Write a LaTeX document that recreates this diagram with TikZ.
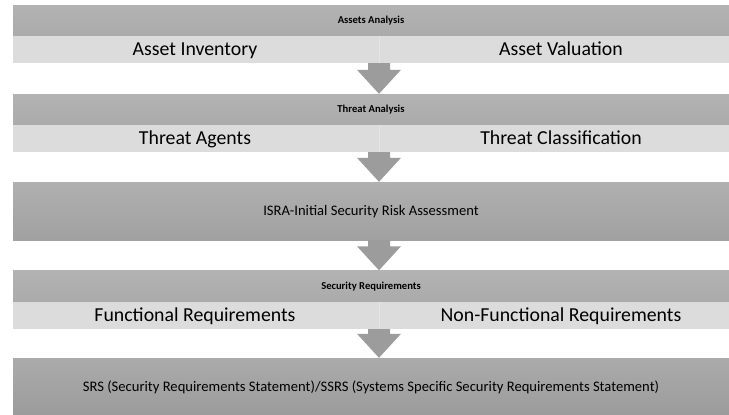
\documentclass[tikz,border=0pt]{standalone}
\usepackage{fontspec}
\setmainfont{Carlito}
\usetikzlibrary{calc}
\definecolor{lightrow}{HTML}{DCDCDC}
\definecolor{arrowgray}{HTML}{9C9C9C}
\tikzset{
  head/.style={rectangle, inner sep=0pt, minimum width=716pt, minimum height=31pt,
    text height=6.8pt, text depth=0pt,
    top color=black!30, bottom color=black!33, font=\bfseries\fontsize{10.6}{12}\selectfont},
  bigbox/.style={rectangle, inner sep=0pt, minimum width=716pt,
    text height=9.4pt, text depth=0pt,
    top color=black!31, bottom color=black!37, font=\fontsize{14.6}{16}\selectfont},
  rowhalf/.style={rectangle, inner sep=0pt, minimum height=27pt, fill=lightrow},
  rowtext/.style={inner sep=0pt, text height=12.8pt, text depth=0pt,
    font=\fontsize{19.8}{22}\selectfont},
  flowarrow/.style={fill=arrowgray}
}
\newcommand{\flowarr}[2]{%
  \fill[flowarrow] let \p1=(#1.south), \p2=(#2.north) in
    (368pt,\y1) -- (390pt,\y1) -- (390pt,\y2+24pt) -- (401pt,\y2+24pt) --
    (379pt,\y2) -- (357pt,\y2+24pt) -- (368pt,\y2+24pt) -- cycle;}
\begin{document}
\begin{tikzpicture}[x=1pt,y=-1pt]
\useasboundingbox (0,0) rectangle (729,415);
% assets
\node[head] (aa) at (371,20.5) {Assets Analysis};
\node[rowhalf, minimum width=366pt] (ai) at (196,49.5) {};
\node[rowhalf, minimum width=350pt] (av) at (554,49.5) {};
\node[rowtext] (ait) at (195,49.5) {Asset Inventory};
\node[rowtext] (avt) at (561,49.5) {Asset Valuation};
% threat
\node[head] (ta) at (371,109.5) {Threat Analysis};
\node[rowhalf, minimum width=366pt] (tg) at (196,138.5) {};
\node[rowhalf, minimum width=350pt] (tc) at (554,138.5) {};
\node[rowtext] (tgt) at (195,138.5) {Threat Agents};
\node[rowtext] (tct) at (561,138.5) {Threat Classification};
% isra
\node[bigbox, minimum height=58pt] (isra) at (371,211) {ISRA-Initial Security Risk Assessment};
% security requirements
\node[head] (sr) at (371,286) {Security Requirements};
\node[rowhalf, minimum width=366pt] (fr) at (196,315.5) {};
\node[rowhalf, minimum width=350pt] (nfr) at (554,315.5) {};
\node[rowtext] (frt) at (195,315.5) {Functional Requirements};
\node[rowtext] (nfrt) at (561,315.5) {Non-Functional Requirements};
% srs
\node[bigbox, minimum height=57pt, top color=black!33, bottom color=black!39] (srs) at (371,386.5) {SRS (Security Requirements Statement)/SSRS (Systems Specific Security Requirements Statement)};
% dividers
\foreach \n in {ai,tg,fr}{\draw[white!25!lightrow, line width=0.6pt] (\n.north east) -- (\n.south east);}
% arrows
\flowarr{ai}{ta}
\flowarr{tg}{isra}
\flowarr{isra}{sr}
\flowarr{fr}{srs}
\end{tikzpicture}
\end{document}
